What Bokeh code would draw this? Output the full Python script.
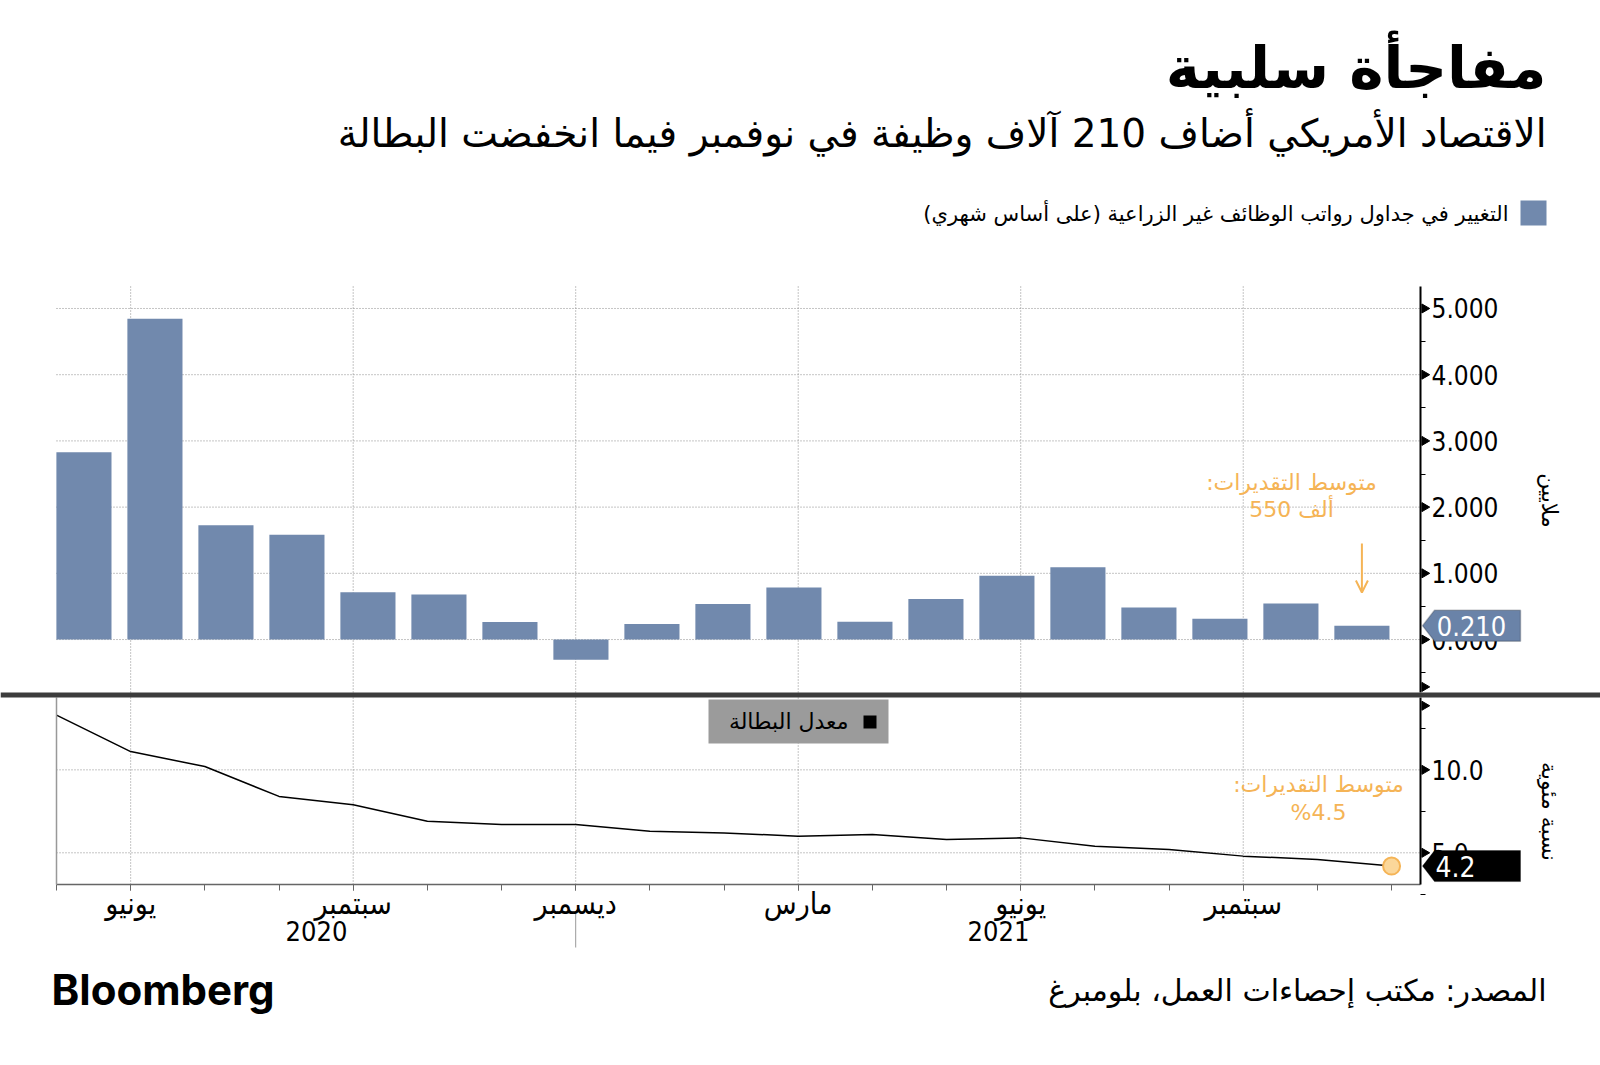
import math
from bokeh.plotting import figure
from bokeh.models import (Range1d, FixedTicker, NumeralTickFormatter, Label, BoxAnnotation,
                          PolyAnnotation, Arrow, OpenHead, Span, LinearAxis)
from bokeh.embed import file_html
from bokeh.resources import INLINE

RLM = "\u200F"
def rtl(s):
    return RLM + s + RLM

# ---------------- data ----------------
months = ["2020-05", "2020-06", "2020-07", "2020-08", "2020-09", "2020-10", "2020-11", "2020-12",
          "2021-01", "2021-02", "2021-03", "2021-04", "2021-05", "2021-06", "2021-07", "2021-08",
          "2021-09", "2021-10", "2021-11"]
payrolls = [2.83, 4.846, 1.726, 1.583, 0.716, 0.680, 0.264, -0.306, 0.233, 0.536, 0.785, 0.269,
            0.614, 0.962, 1.091, 0.483, 0.312, 0.546, 0.210]
unemployment = [13.3, 11.1, 10.2, 8.4, 7.9, 6.9, 6.7, 6.7, 6.3, 6.2, 6.0, 6.1, 5.8, 5.9, 5.4, 5.2,
                4.8, 4.6, 4.2]
tick_months = [1, 4, 7, 10, 13, 16]
tick_labels = ["يونيو", "سبتمبر", "ديسمبر", "مارس", "يونيو", "سبتمبر"]
year_labels = ["2020", "2021"]
payroll_ticks = [0, 1, 2, 3, 4, 5]
payroll_minor = [-0.5, 0.5, 1.5, 2.5, 3.5, 4.5]
payroll_arrows = [-1, 0, 1, 2, 3, 4, 5]
rate_ticks = [5, 10]
rate_minor = [2.5, 7.5, 12.5]
rate_arrows = [5, 10, 15]
payroll_estimate = "550 ألف"
rate_estimate = "%4.5"

title = "مفاجأة سلبية"
subtitle = "الاقتصاد الأمريكي أضاف 210 آلاف وظيفة في نوفمبر فيما انخفضت البطالة"
legend_bars = "التغيير في جداول رواتب الوظائف غير الزراعية (على أساس شهري)"
legend_line = "معدل البطالة"
estimate_title = "متوسط التقديرات:"
unit_top = "ملايين"
unit_bottom = "نسبة مئوية"
source = "المصدر: مكتب إحصاءات العمل، بلومبرغ"

# ---------------- geometry (page px -> data) ----------------
W, H = 1600, 1065
XMAX = 18.39
FL, FR = 56, 1420            # panel left / axis position
T_TOP, T_BOT = 286, 692      # payroll panel
YT1, YT0 = 5.332, -0.80
B_TOP, B_BOT = 697, 884      # unemployment panel
YB1, YB0 = 14.36, 3.09
KX = (FR - FL) / XMAX
KT = (YT1 - YT0) / (T_BOT - T_TOP)
KB = (YB1 - YB0) / (B_BOT - B_TOP)

def X(px):
    return (px - FL) / KX

def Y(py):      # primary (payroll) scale
    return YT1 - (py - T_TOP) * KT

def R(py):      # unemployment scale
    return YB1 - (py - B_TOP) * KB

def rate_in_primary(v):
    return Y(B_TOP + (YB1 - v) / KB)

n = len(months)
line_x = list(range(n))
bar_x = [0.37 + i * (17.6 - 0.37) / (n - 1) for i in range(n)]

BAR = "#7189ad"
ORANGE = "#f5b456"
GRID = "#8a8a8a"
AR = "DejaVu Sans"
NUM = "DejaVu Sans Condensed"

p = figure(width=W, height=H, x_range=Range1d(X(0), X(W)), y_range=Range1d(Y(H), Y(0)),
           output_backend="svg", toolbar_location=None, x_axis_location=None,
           y_axis_location=None, min_border=0, min_border_left=0, min_border_right=0,
           min_border_top=0, min_border_bottom=0)
p.extra_y_ranges = {"rate": Range1d(R(H), R(0))}
p.outline_line_color = None
p.background_fill_color = "white"
p.border_fill_color = "white"
for g in p.grid:
    g.visible = False

# ---------------- grid lines ----------------
p.segment(x0=tick_months, x1=tick_months, y0=[Y(B_BOT)] * len(tick_months),
          y1=[YT1] * len(tick_months), line_color=GRID, line_dash="1 2", line_width=1)
p.segment(x0=[0] * len(payroll_ticks), x1=[XMAX] * len(payroll_ticks), y0=payroll_ticks,
          y1=payroll_ticks, line_color=GRID, line_dash="1 2", line_width=1)
p.segment(x0=[0] * len(rate_ticks), x1=[XMAX] * len(rate_ticks), y0=rate_ticks, y1=rate_ticks,
          y_range_name="rate", line_color=GRID, line_dash="1 2", line_width=1)

# ---------------- axes ----------------
def style_y(a):
    a.axis_line_color = "black"
    a.axis_line_width = 2
    a.major_tick_line_color = None
    a.major_tick_out = 8
    a.major_tick_in = 0
    a.minor_tick_line_color = "black"
    a.minor_tick_out = 5
    a.minor_tick_in = 0
    a.major_label_text_font = NUM
    a.major_label_text_font_size = "26px"
    a.major_label_text_color = "black"
    a.major_label_standoff = 3

ay_top = LinearAxis(ticker=FixedTicker(ticks=payroll_ticks, minor_ticks=payroll_minor),
                    formatter=NumeralTickFormatter(format="0.000"), fixed_location=XMAX,
                    bounds=(YT0, YT1))
style_y(ay_top)
p.add_layout(ay_top, "right")

ay_bot = LinearAxis(y_range_name="rate", ticker=FixedTicker(ticks=rate_ticks, minor_ticks=rate_minor),
                    formatter=NumeralTickFormatter(format="0.0"), fixed_location=XMAX,
                    bounds=(YB0, YB1))
style_y(ay_bot)
p.add_layout(ay_bot, "right")

ay_left = LinearAxis(y_range_name="rate", ticker=FixedTicker(ticks=[]), fixed_location=0,
                     bounds=(YB0, YB1), axis_line_color="#999999", axis_line_width=1.5,
                     major_tick_line_color=None, minor_tick_line_color=None,
                     major_label_text_font_size="0px")
p.add_layout(ay_left, "left")

ax = LinearAxis(ticker=FixedTicker(ticks=tick_months, minor_ticks=line_x),
                fixed_location=Y(B_BOT), bounds=(0, XMAX))
ax.major_label_overrides = {m: t for m, t in zip(tick_months, tick_labels)}
ax.axis_line_color = "#666666"
ax.axis_line_width = 1.5
ax.major_tick_line_color = "#666666"
ax.minor_tick_line_color = "#666666"
ax.major_tick_out = 6
ax.major_tick_in = 0
ax.minor_tick_out = 6
ax.minor_tick_in = 0
ax.major_label_text_font = NUM
ax.major_label_text_font_size = "30px"
ax.major_label_text_color = "black"
ax.major_label_standoff = -5
p.add_layout(ax, "below")

# arrow-shaped major ticks
p.scatter(x=[X(FR + 4)] * len(payroll_arrows), y=payroll_arrows, marker="triangle",
          angle=-math.pi / 2, size=9, fill_color="black", line_color="black")
p.scatter(x=[X(FR + 4)] * len(rate_arrows), y=rate_arrows, y_range_name="rate",
          marker="triangle", angle=-math.pi / 2, size=9, fill_color="black",
          line_color="black")

# ---------------- data marks ----------------
p.vbar(x=bar_x, top=payrolls, bottom=0, width=0.743, fill_color=BAR, line_color=None)
p.line(line_x, unemployment, y_range_name="rate", line_color="black", line_width=1.5)
p.scatter(line_x[-1:], unemployment[-1:], y_range_name="rate", size=17, fill_color="#fbd79a",
          line_color=ORANGE, line_width=2)

# divider
p.add_layout(Span(location=Y(694.5), dimension="width", line_color="#3c3c3c", line_width=5))

def lab(px, py, text, **kw):
    base = dict(text_baseline="middle", text_color="black", text_font=AR)
    base.update(kw)
    return Label(x=X(px), y=Y(py), text=text, **base)

# ---------------- annotations ----------------
p.add_layout(lab(1291, 482, rtl(estimate_title), text_align="center", text_font_size="22px",
                 text_color=ORANGE))
p.add_layout(lab(1291, 509, payroll_estimate, text_align="center", text_font_size="22px",
                 text_color=ORANGE))
p.add_layout(Arrow(end=OpenHead(size=12, line_color=ORANGE, line_width=2),
                   x_start=bar_x[-1], y_start=Y(543), x_end=bar_x[-1], y_end=Y(592),
                   line_color=ORANGE, line_width=2))

p.add_layout(lab(1318, 784, rtl(estimate_title), text_align="center", text_font_size="22px",
                 text_color=ORANGE))
p.add_layout(lab(1318, 812, rtl(rate_estimate), text_align="center", text_font_size="22px",
                 text_color=ORANGE))

# value box 0.210
vy = payrolls[-1]
hh = 15.5 * KT
p.add_layout(PolyAnnotation(xs=[X(1422), X(1434), X(1520), X(1520), X(1434)],
                            ys=[vy, vy + hh, vy + hh, vy - hh, vy - hh],
                            fill_color="#6a83a8", fill_alpha=1, line_color="#2b3240",
                            line_width=1.5))
p.add_layout(Label(x=X(1471), y=vy, text=f"{payrolls[-1]:.3f}", text_align="center",
                   text_baseline="middle", text_font=NUM, text_font_size="27px",
                   text_color="white"))

# value box 4.2
uy = rate_in_primary(unemployment[-1])
hb = 15.5 * KT
p.add_layout(PolyAnnotation(xs=[X(1422), X(1434), X(1520), X(1520), X(1434)],
                            ys=[uy, uy + hb, uy + hb, uy - hb, uy - hb],
                            fill_color="black", fill_alpha=1, line_color="black"))
p.add_layout(Label(x=X(1455), y=uy, text=f"{unemployment[-1]:.1f}",
                   text_align="center", text_baseline="middle", text_font=NUM,
                   text_font_size="28px", text_color="white"))

# unit labels
p.add_layout(lab(1549, 500, unit_top, angle=-math.pi / 2, text_align="center",
                 text_font_size="22px"))
p.add_layout(lab(1549, 811, unit_bottom, angle=-math.pi / 2, text_align="center",
                 text_font_size="22px"))

# legend box for the line
p.add_layout(BoxAnnotation(left=X(708), right=X(888), top=Y(699), bottom=Y(743),
                           fill_color="#9b9b9b", fill_alpha=1, line_color=None))
p.add_layout(BoxAnnotation(left=X(863), right=X(876), top=Y(715), bottom=Y(728),
                           fill_color="black", fill_alpha=1, line_color=None))
p.add_layout(lab(848, 721, legend_line, text_align="right", text_font_size="22px"))

# year labels and separator
p.add_layout(lab(316, 930, year_labels[0], text_align="center", text_font=NUM,
                 text_font_size="27px"))
p.add_layout(lab(998, 930, year_labels[1], text_align="center", text_font=NUM,
                 text_font_size="27px"))
p.segment(x0=[tick_months[2]], x1=[tick_months[2]], y0=[Y(912)], y1=[Y(947)],
          line_color="#999999", line_width=1)

# header
p.add_layout(lab(1546, 67, title, text_align="right", text_font_style="bold",
                 text_font_size="58px"))
p.add_layout(lab(1546, 133, rtl(subtitle), text_align="right", text_font_size="39px"))
p.add_layout(BoxAnnotation(left=X(1520), right=X(1546), top=Y(200), bottom=Y(225),
                           fill_color=BAR, fill_alpha=1, line_color=None))
p.add_layout(lab(1508, 213, rtl(legend_bars), text_align="right", text_font_size="21px"))

# footer
p.add_layout(lab(51, 989, "Bloomberg", text_align="left", text_baseline="alphabetic",
                 text_font="Inter", text_font_style="bold", text_font_size="42px"))
p.add_layout(lab(1546, 990, rtl(source), text_align="right", text_font_size="30px"))

open("out.html", "w").write(file_html(p, INLINE))
